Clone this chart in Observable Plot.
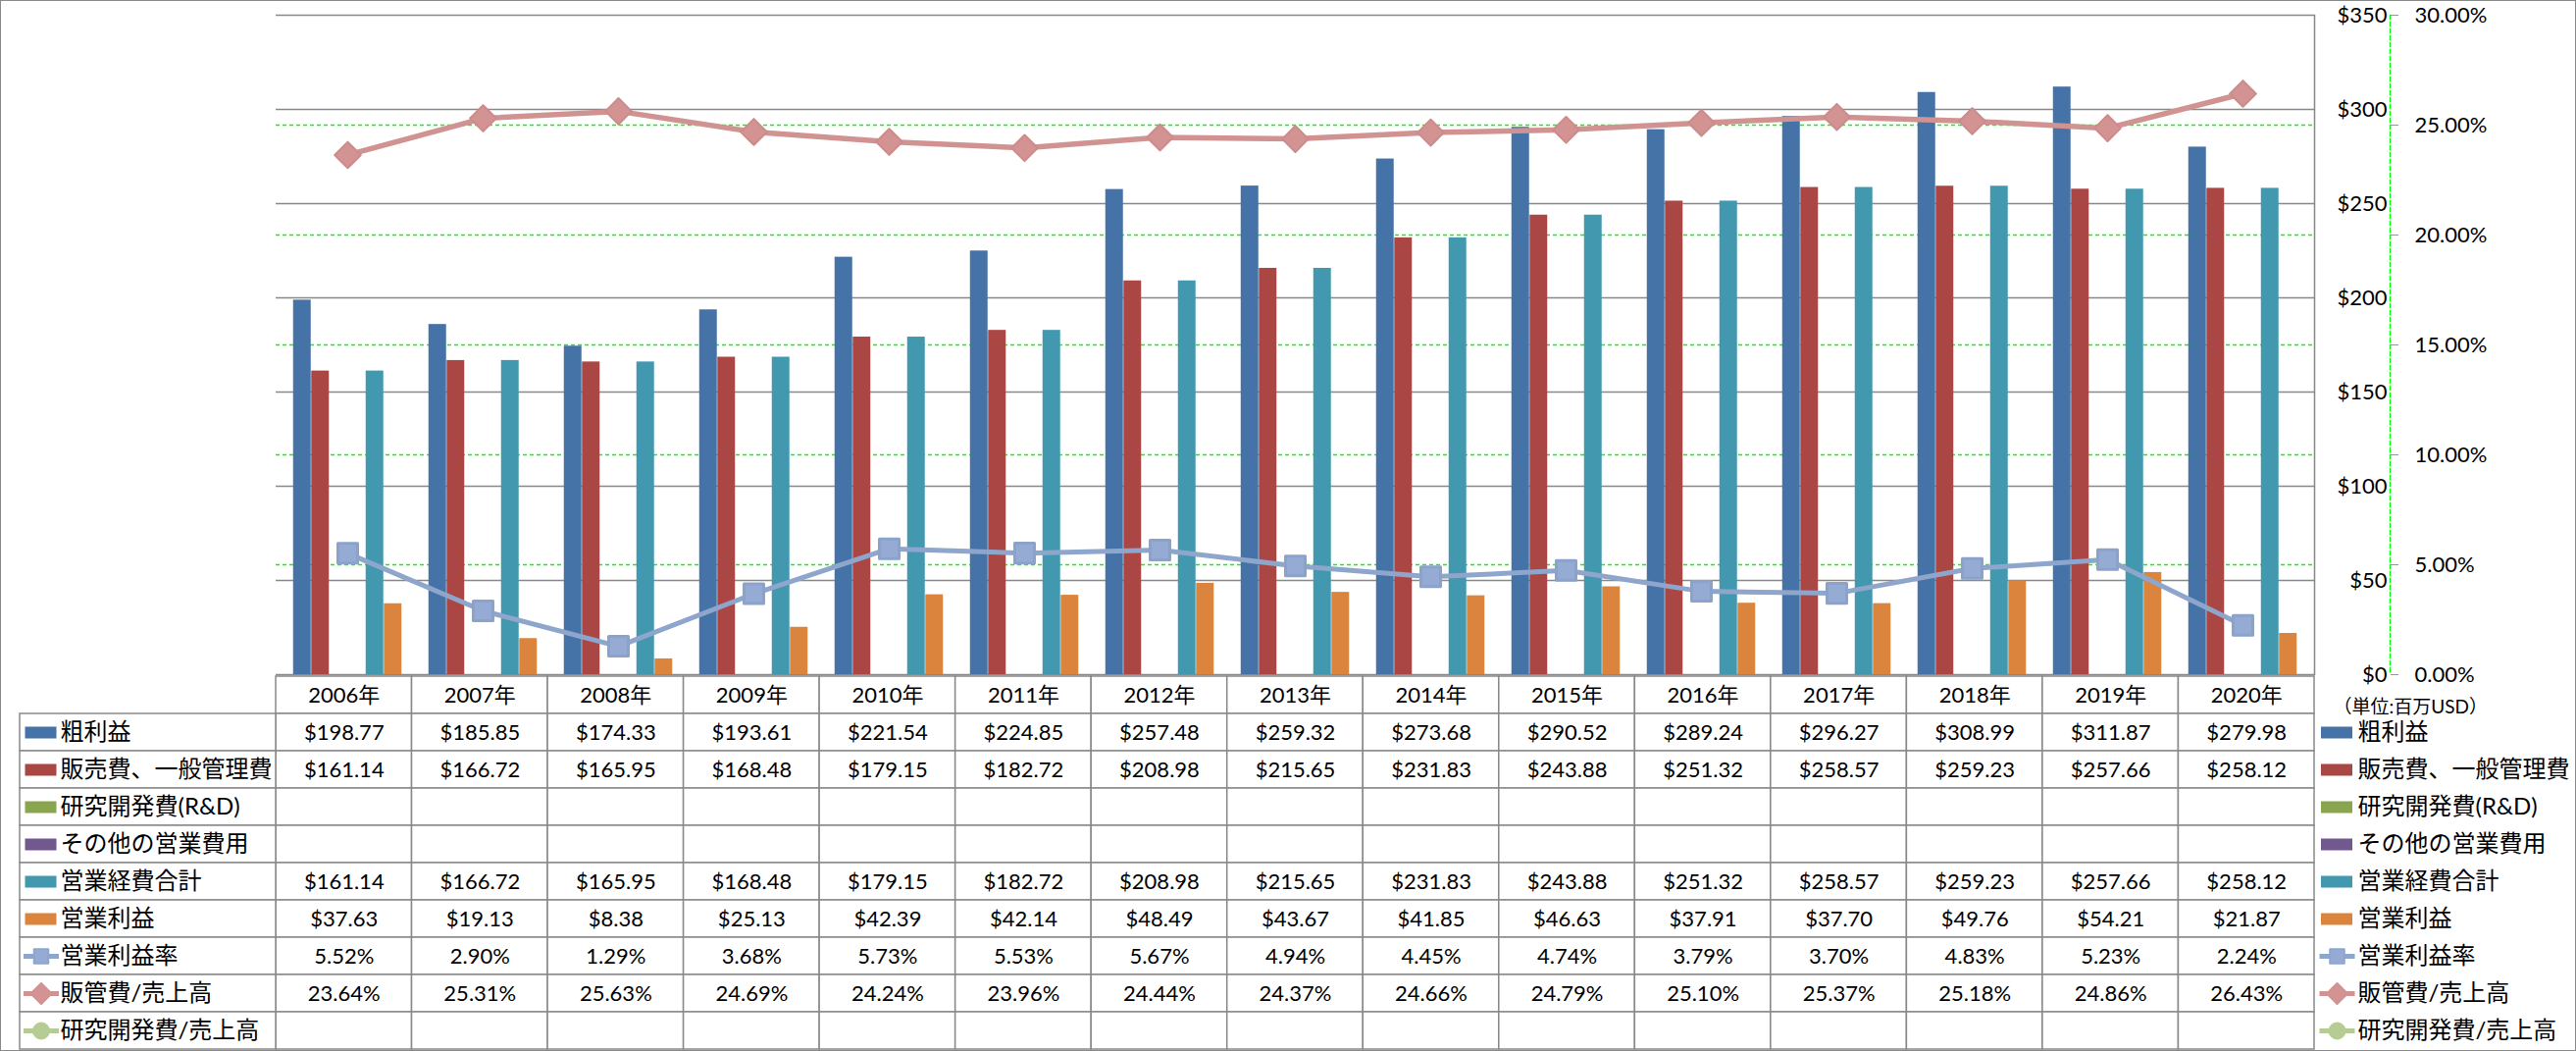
<!DOCTYPE html>
<html>
<head>
<meta charset="utf-8">
<script src="https://cdn.jsdelivr.net/npm/d3@7"></script>
<script src="https://cdn.jsdelivr.net/npm/@observablehq/plot@0.6"></script>
<style>
html, body { margin: 0; padding: 0; background: #fff; }
#wrap { position: relative; width: 2626px; height: 1071px; overflow: hidden; background: #fff; }
#border { position: absolute; left: 0; top: 0; width: 2626px; height: 1071px; box-sizing: border-box; border: 1.5px solid #898989; pointer-events: none; }
</style>
</head>
<body>
<div id="wrap"><div id="border"></div></div>
<script>
// ---------- data ----------
const years = [2006, 2007, 2008, 2009, 2010, 2011, 2012, 2013, 2014, 2015, 2016, 2017, 2018, 2019, 2020];
const grossProfit = [198.77, 185.85, 174.33, 193.61, 221.54, 224.85, 257.48, 259.32, 273.68, 290.52, 289.24, 296.27, 308.99, 311.87, 279.98];
const sgaExpense = [161.14, 166.72, 165.95, 168.48, 179.15, 182.72, 208.98, 215.65, 231.83, 243.88, 251.32, 258.57, 259.23, 257.66, 258.12];
const rdExpense = [null, null, null, null, null, null, null, null, null, null, null, null, null, null, null];
const otherOpex = [null, null, null, null, null, null, null, null, null, null, null, null, null, null, null];
const totalOpex = [161.14, 166.72, 165.95, 168.48, 179.15, 182.72, 208.98, 215.65, 231.83, 243.88, 251.32, 258.57, 259.23, 257.66, 258.12];
const opIncome = [37.63, 19.13, 8.38, 25.13, 42.39, 42.14, 48.49, 43.67, 41.85, 46.63, 37.91, 37.70, 49.76, 54.21, 21.87];
const opMargin = [5.52, 2.90, 1.29, 3.68, 5.73, 5.53, 5.67, 4.94, 4.45, 4.74, 3.79, 3.70, 4.83, 5.23, 2.24];
const sgaRatio = [23.64, 25.31, 25.63, 24.69, 24.24, 23.96, 24.44, 24.37, 24.66, 24.79, 25.10, 25.37, 25.18, 24.86, 26.43];
const rdRatio = [null, null, null, null, null, null, null, null, null, null, null, null, null, null, null];

const seriesNames = ["粗利益", "販売費、一般管理費", "研究開発費(R&D)", "その他の営業費用", "営業経費合計", "営業利益", "営業利益率", "販管費/売上高", "研究開発費/売上高"];
const dollarTicks = [0, 50, 100, 150, 200, 250, 300, 350];
const pctTicks = [0, 5, 10, 15, 20, 25, 30];
const pctGridTicks = [5, 10, 15, 20, 25];
const yearSuffix = "年";
const unitLabel = "（単位:百万USD）";

// ---------- layout / style ----------
const W = 2626, H = 1071;
const plotLeft = 281, plotRight = 2359, plotTop = 15, plotBottom = 687;
const tableLeft = 20, rowH = 38.3;
const FONT = "Lato, 'Noto Sans CJK JP', sans-serif";
const GRID = "#898989";
const colors = {
  gross: "#4572A7", sga: "#AA4643", rd: "#89A54E", other: "#71588F", total: "#4198AF", opinc: "#DB843D",
  marginLine: "#8EA5CC", marginFill: "#95ABD3", ratioLine: "#D09392", ratioFill: "#D29392", rdRatio: "#B6CC94"
};

const barSeries = [
  {name: seriesNames[0], values: grossProfit, color: colors.gross},
  {name: seriesNames[1], values: sgaExpense, color: colors.sga},
  {name: seriesNames[2], values: rdExpense, color: colors.rd},
  {name: seriesNames[3], values: otherOpex, color: colors.other},
  {name: seriesNames[4], values: totalOpex, color: colors.total},
  {name: seriesNames[5], values: opIncome, color: colors.opinc}
];

const rowDefs = [
  {label: seriesNames[0], values: grossProfit, fmt: "usd", kind: "bar", color: colors.gross},
  {label: seriesNames[1], values: sgaExpense, fmt: "usd", kind: "bar", color: colors.sga},
  {label: seriesNames[2], values: rdExpense, fmt: "usd", kind: "bar", color: colors.rd},
  {label: seriesNames[3], values: otherOpex, fmt: "usd", kind: "bar", color: colors.other},
  {label: seriesNames[4], values: totalOpex, fmt: "usd", kind: "bar", color: colors.total},
  {label: seriesNames[5], values: opIncome, fmt: "usd", kind: "bar", color: colors.opinc},
  {label: seriesNames[6], values: opMargin, fmt: "pct", kind: "line", marker: "square", size: 8.2, color: colors.marginLine, fill: colors.marginFill},
  {label: seriesNames[7], values: sgaRatio, fmt: "pct", kind: "line", marker: "diamond2", size: 9.5, color: colors.ratioLine, fill: colors.ratioFill},
  {label: seriesNames[8], values: rdRatio, fmt: "pct", kind: "line", marker: "circle", size: 8, color: colors.rdRatio, fill: colors.rdRatio}
];

const k = dollarTicks[dollarTicks.length - 1] / pctTicks[pctTicks.length - 1]; // $ per percentage point

const data = years.map((year, i) => ({year, i, opMargin: opMargin[i], sgaRatio: sgaRatio[i]}));

// ---------- chart ----------
const bw = (plotRight - plotLeft) / years.length;
const slot = 18.5;
const outer = (bw - slot * barSeries.length) / 2;

const barMarks = barSeries.map((s, j) =>
  Plot.barY(years.map((year, i) => ({year, v: s.values[i]})).filter(d => d.v != null), {
    x: "year", y: "v", fill: s.color,
    insetLeft: outer + j * slot, insetRight: bw - outer - (j + 1) * slot
  })
);

const chartH = plotBottom + 13;
const chart = Plot.plot({
  width: W, height: chartH,
  marginLeft: plotLeft, marginRight: W - plotRight, marginTop: plotTop, marginBottom: chartH - plotBottom,
  x: {type: "band", domain: years, padding: 0, axis: null},
  y: {type: "linear", domain: [0, dollarTicks[dollarTicks.length - 1]], axis: null},
  style: {position: "absolute", left: "0px", top: "0px", background: "transparent", fontFamily: FONT, fontSize: "22px", color: "#000"},
  marks: [
    Plot.ruleY(pctGridTicks, {y: d => d * k, stroke: "#00ff00", strokeWidth: 1.3, strokeDasharray: "4,3"}),
    Plot.ruleY(dollarTicks, {stroke: GRID, strokeWidth: 1.5}),
    Plot.frame({anchor: "right", stroke: GRID, strokeWidth: 1.5}),
    ...barMarks,
    Plot.line(data, {x: "year", y: d => d.sgaRatio * k, stroke: colors.ratioLine, strokeWidth: 5.5}),
    Plot.dot(data, {x: "year", y: d => d.sgaRatio * k, symbol: "diamond2", r: 12, fill: colors.ratioFill, stroke: "#CC8C8B", strokeWidth: 2, strokeLinejoin: "round"}),
    Plot.line(data, {x: "year", y: d => d.opMargin * k, stroke: colors.marginLine, strokeWidth: 5}),
    Plot.dot(data, {x: "year", y: d => d.opMargin * k, symbol: "square", r: 11.3, fill: colors.marginFill, stroke: "#8BA2CB", strokeWidth: 3, strokeLinejoin: "round"}),
    // right-side $ axis labels
    Plot.text(dollarTicks, {y: d => d, frameAnchor: "right", dx: 74, textAnchor: "end", text: d => "$" + d, fontSize: 22}),
    // secondary % axis
    Plot.frame({anchor: "right", dx: 77, stroke: "#00ff00", strokeWidth: 1.3, strokeDasharray: "4,3"}),
    Plot.axisY(pctTicks.map(p => p * k), {anchor: "right", tickSize: 8, dx: 77, stroke: "#00ff00", tickFormat: () => "", label: null}),
    Plot.text(pctTicks, {y: d => d * k, frameAnchor: "right", dx: 102, textAnchor: "start", text: d => d.toFixed(2) + "%", fontSize: 22})
  ]
});

// ---------- data table ----------
const tableTop = plotBottom;
const tableRows = ["header", ...seriesNames];
const tableH = H - tableTop;
const labelCols = (plotLeft - tableLeft) / bw;

const headerCells = years.map((year, i) => ({year, i, row: "header"}));
const bodyCells = [];
const valueCells = [];
rowDefs.forEach(r => {
  years.forEach((year, i) => {
    bodyCells.push({i, row: r.label});
    const v = r.values[i];
    if (v != null) valueCells.push({i, row: r.label, text: r.fmt === "usd" ? "$" + v.toFixed(2) : v.toFixed(2) + "%"});
  });
});

const rectSwatch = {draw(ctx) { ctx.rect(-16, -6, 32, 12); }};
const lineSwatch = {draw(ctx) { ctx.rect(-18, -2.5, 36, 5); }};
const barRows = rowDefs.filter(r => r.kind === "bar");
const lineRows = rowDefs.filter(r => r.kind === "line");

function legendMarks(anchor, swatchDx, textDx) {
  return [
    Plot.dot(barRows, {y: "label", frameAnchor: anchor, dx: swatchDx, symbol: rectSwatch, fill: "color", r: 5}),
    Plot.dot(lineRows, {y: "label", frameAnchor: anchor, dx: swatchDx + 0.5, symbol: lineSwatch, fill: "color", r: 5}),
    ...lineRows.map(row => Plot.dot([row], {y: "label", frameAnchor: anchor, dx: swatchDx + 0.5, symbol: row.marker, r: row.size, fill: row.fill, stroke: row.color, strokeWidth: 2, strokeLinejoin: "round"})),
    Plot.text(rowDefs, {y: "label", frameAnchor: anchor, dx: textDx, textAnchor: "start", text: "label", fontSize: 24})
  ];
}

const table = Plot.plot({
  width: W, height: tableH,
  marginLeft: tableLeft, marginRight: W - plotRight, marginTop: 0, marginBottom: tableH - rowH * tableRows.length,
  x: {type: "linear", domain: [-labelCols, years.length], axis: null},
  y: {type: "band", domain: tableRows, padding: 0, axis: null},
  color: {type: "identity"},
  style: {position: "absolute", left: "0px", top: tableTop + "px", background: "transparent", fontFamily: FONT, fontSize: "22px", color: "#000"},
  marks: [
    Plot.barX(headerCells, {x1: "i", x2: d => d.i + 1, y: "row", fill: "white", stroke: GRID, strokeWidth: 1.5}),
    Plot.barX(bodyCells, {x1: "i", x2: d => d.i + 1, y: "row", fill: "white", stroke: GRID, strokeWidth: 1.5}),
    Plot.barX(rowDefs, {x1: -labelCols, x2: 0, y: "label", fill: "white", stroke: GRID, strokeWidth: 1.5}),
    Plot.text(headerCells, {x: d => d.i + 0.5, y: "row", text: d => d.year + yearSuffix, fontSize: 22}),
    Plot.text(valueCells, {x: d => d.i + 0.5, y: "row", text: "text", fontSize: 22}),
    ...legendMarks("left", 21, 41),
    ...legendMarks("right", 22.5, 44),
    Plot.text([unitLabel], {frameAnchor: "top-right", dx: 19, dy: 26, textAnchor: "start", text: d => d, fontSize: 19})
  ]
});

const wrap = document.getElementById("wrap");
wrap.insertBefore(chart, wrap.firstChild);
wrap.insertBefore(table, wrap.firstChild);
</script>
</body>
</html>
